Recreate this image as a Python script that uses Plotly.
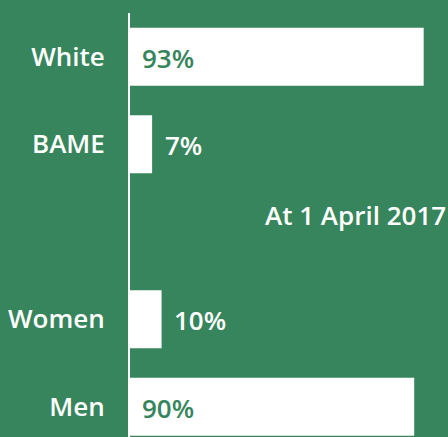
import plotly.graph_objects as go

categories = ["White", "BAME", " ", "Women", "Men"]
bar_categories = ["White", "BAME", "Women", "Men"]
values = [93, 7, 10, 90]
value_labels = ["93%", "7%", "10%", "90%"]
note_text = "At 1 April 2017"

BG = "#37855c"
FONT = "Open Sans"
SIZE = 26
WEIGHT = 600

fig = go.Figure()
fig.add_trace(go.Bar(
    x=values, y=bar_categories, orientation="h",
    marker=dict(color="white", line=dict(width=0)),
    width=0.663, hoverinfo="skip",
))

annotations = []
for cat, v, lab in zip(bar_categories, values, value_labels):
    inside = v > 50
    annotations.append(dict(
        x=0 if inside else v, y=cat, xref="x", yref="y",
        text=lab, showarrow=False, xanchor="left", yanchor="middle",
        xshift=10 if inside else 10.5, yshift=-1,
        font=dict(family=FONT, size=SIZE, weight=WEIGHT, color=BG if inside else "white"),
    ))
annotations.append(dict(
    x=1, y=" ", xref="paper", yref="y", text=note_text,
    showarrow=False, xanchor="right", yanchor="middle", yshift=17, xshift=0,
    font=dict(family=FONT, size=SIZE, weight=WEIGHT, color="white"),
))

fig.update_layout(
    width=448, height=437,
    margin=dict(l=130, r=0, t=13, b=0),
    paper_bgcolor=BG, plot_bgcolor=BG,
    showlegend=False,
    annotations=annotations,
    xaxis=dict(range=[0, 100.7], showgrid=False, zeroline=False,
               showticklabels=False, showline=False),
    yaxis=dict(type="category", categoryorder="array", categoryarray=categories,
               range=[4.346, -0.5], showgrid=False, zeroline=False,
               showline=True, linecolor="white", linewidth=2,
               ticks="", ticklabelstandoff=18,
               tickfont=dict(family=FONT, size=SIZE, color="white", weight=WEIGHT)),
)

fig.write_html("out.html")
